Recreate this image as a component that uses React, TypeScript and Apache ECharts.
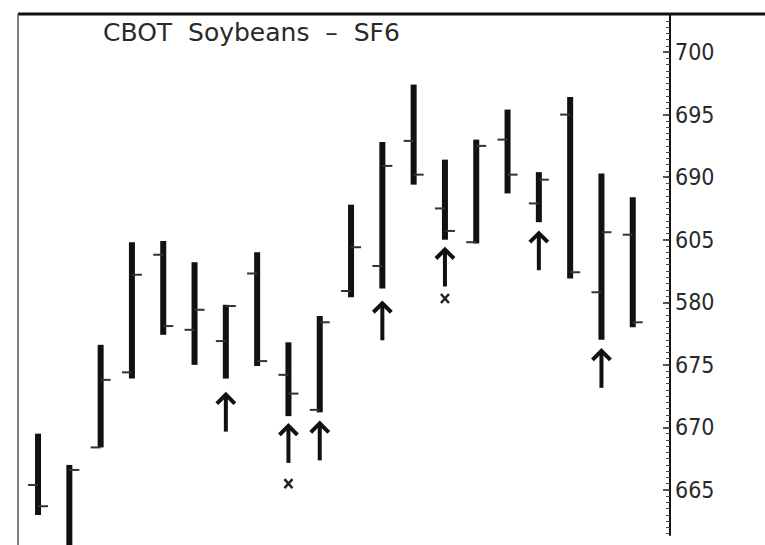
import React, { useEffect, useRef } from "react";
import * as echarts from "echarts";

// ---- data ----
const titleText = "CBOT  Soybeans  –  SF6";
const barIndex = [0, 1, 2, 3, 4, 5, 6, 7, 8, 9, 10, 11, 12, 13, 14, 15, 16, 17, 18, 19];
const opens = [665.4, 660.2, 668.4, 674.4, 683.8, 677.8, 676.9, 682.3, 674.2, 671.4, 680.9, 682.9, 692.9, 687.5, 684.8, 693.0, 687.9, 695.0, 680.8, 685.4];
const highs = [669.5, 667.0, 676.6, 684.8, 684.9, 683.2, 679.8, 684.0, 676.8, 678.9, 687.8, 692.8, 697.4, 691.4, 693.0, 695.4, 690.4, 696.4, 690.3, 688.4];
const lows = [663.0, 660.0, 668.4, 673.9, 677.4, 675.0, 673.9, 674.9, 670.9, 671.2, 680.4, 681.1, 689.4, 685.0, 684.7, 688.7, 686.4, 681.9, 677.0, 678.0];
const closes = [663.7, 666.6, 673.8, 682.2, 678.1, 679.4, 679.7, 675.3, 672.7, 678.4, 684.4, 690.9, 690.2, 685.7, 692.5, 690.2, 689.8, 682.4, 685.6, 678.4];
const arrowBars = [6, 8, 9, 11, 13, 16, 18];
const arrowTips = [672.7, 670.2, 670.4, 680.0, 684.3, 685.6, 676.2];
const crossBars = [8, 13];
const crossValues = [665.5, 680.3];
const tickValues = [665, 670, 675, 680, 685, 690, 695, 700];
const tickLabels = ["665", "670", "675", "580", "605", "690", "695", "700"];

const Y_MIN = 661.4;
const Y_MAX = 703.04;

export default function App() {
  const ref = useRef<HTMLDivElement>(null);

  useEffect(() => {
    document.body.style.margin = "0";
    if (!ref.current) return;
    const chart = echarts.init(ref.current, null, { renderer: "svg" });

    const minorTicks: number[] = [];
    for (let v = 661.5; v <= 703; v += 0.5) minorTicks.push(Math.round(v * 10) / 10);

    const ohlcData = barIndex.map((i) => [i, opens[i], highs[i], lows[i], closes[i]]);
    const arrowData = arrowBars.map((b, k) => [b, arrowTips[k]]);
    const crossData = crossBars.map((b, k) => [b, crossValues[k]]);

    const ink = "#111";

    chart.setOption({
      animation: false,
      backgroundColor: "#fff",
      grid: { left: 18, right: 95, top: 14, bottom: 10, containLabel: false },
      xAxis: {
        type: "value",
        min: -0.64,
        max: 20.19,
        show: false,
      },
      yAxis: [
        {
          type: "value",
          position: "right",
          min: Y_MIN,
          max: Y_MAX,
          splitLine: { show: false },
          axisLine: { show: true, onZero: false, lineStyle: { color: "#111", width: 2 } },
          axisTick: {
            show: true,
            inside: true,
            length: 7,
            customValues: tickValues,
            lineStyle: { color: "#222", width: 1.5 },
          },
          axisLabel: {
            show: true,
            customValues: tickValues,
            margin: 5,
            color: "#2a2a2a",
            fontFamily: "DejaVu Sans Condensed",
            fontSize: 23,
            formatter: (v: number) => {
              const idx = tickValues.findIndex((t) => Math.abs(t - v) < 0.01);
              return idx >= 0 ? tickLabels[idx] : "";
            },
          },
        },
        {
          type: "value",
          position: "right",
          min: Y_MIN,
          max: Y_MAX,
          splitLine: { show: false },
          axisLine: { show: false, onZero: false },
          axisLabel: { show: false },
          axisTick: {
            show: true,
            inside: true,
            length: 4,
            customValues: minorTicks,
            lineStyle: { color: "#444", width: 1 },
          },
        },
      ],
      graphic: [
        {
          type: "line",
          shape: { x1: 18, y1: 14, x2: 765, y2: 14 },
          style: { stroke: "#111", lineWidth: 3 },
          z: 50,
        },
        {
          type: "line",
          shape: { x1: 18, y1: 14, x2: 18, y2: 545 },
          style: { stroke: "#555", lineWidth: 1.5 },
          z: 50,
        },
        {
          type: "text",
          left: 103,
          top: 20,
          style: {
            text: titleText,
            fill: "#2a2a2a",
            font: "25px 'DejaVu Sans'",
          },
          z: 50,
        },
      ],
      series: [
        {
          type: "custom",
          clip: false,
          data: ohlcData,
          renderItem: (params: any, api: any) => {
            const i = api.value(0);
            const pO = api.coord([i, api.value(1)]);
            const pH = api.coord([i, api.value(2)]);
            const pL = api.coord([i, api.value(3)]);
            const pC = api.coord([i, api.value(4)]);
            const x = pH[0];
            return {
              type: "group",
              children: [
                {
                  type: "rect",
                  shape: { x: x - 3, y: pH[1], width: 6, height: pL[1] - pH[1] },
                  style: { fill: ink },
                },
                {
                  type: "line",
                  shape: { x1: x - 10, y1: pO[1], x2: x, y2: pO[1] },
                  style: { stroke: "#333", lineWidth: 2 },
                },
                {
                  type: "line",
                  shape: { x1: x, y1: pC[1], x2: x + 10, y2: pC[1] },
                  style: { stroke: "#333", lineWidth: 2 },
                },
              ],
            };
          },
        },
        {
          type: "custom",
          clip: false,
          data: arrowData,
          renderItem: (params: any, api: any) => {
            const p = api.coord([api.value(0), api.value(1)]);
            const x = p[0];
            const y = p[1];
            return {
              type: "group",
              children: [
                {
                  type: "line",
                  shape: { x1: x, y1: y + 2, x2: x, y2: y + 38 },
                  style: { stroke: ink, lineWidth: 4 },
                },
                {
                  type: "polyline",
                  shape: { points: [[x - 9, y + 10], [x, y + 1], [x + 9, y + 10]] },
                  style: { stroke: ink, lineWidth: 4, fill: "none", lineJoin: "miter" },
                },
              ],
            };
          },
        },
        {
          type: "custom",
          clip: false,
          data: crossData,
          renderItem: (params: any, api: any) => {
            const p = api.coord([api.value(0), api.value(1)]);
            const x = p[0];
            const y = p[1];
            return {
              type: "group",
              children: [
                {
                  type: "line",
                  shape: { x1: x - 4, y1: y - 4.5, x2: x + 4, y2: y + 4.5 },
                  style: { stroke: "#222", lineWidth: 2.5 },
                },
                {
                  type: "line",
                  shape: { x1: x + 4, y1: y - 4.5, x2: x - 4, y2: y + 4.5 },
                  style: { stroke: "#222", lineWidth: 2.5 },
                },
              ],
            };
          },
        },
      ],
    });

    return () => chart.dispose();
  }, []);

  return <div ref={ref} style={{ width: 765, height: 545 }} />;
}
